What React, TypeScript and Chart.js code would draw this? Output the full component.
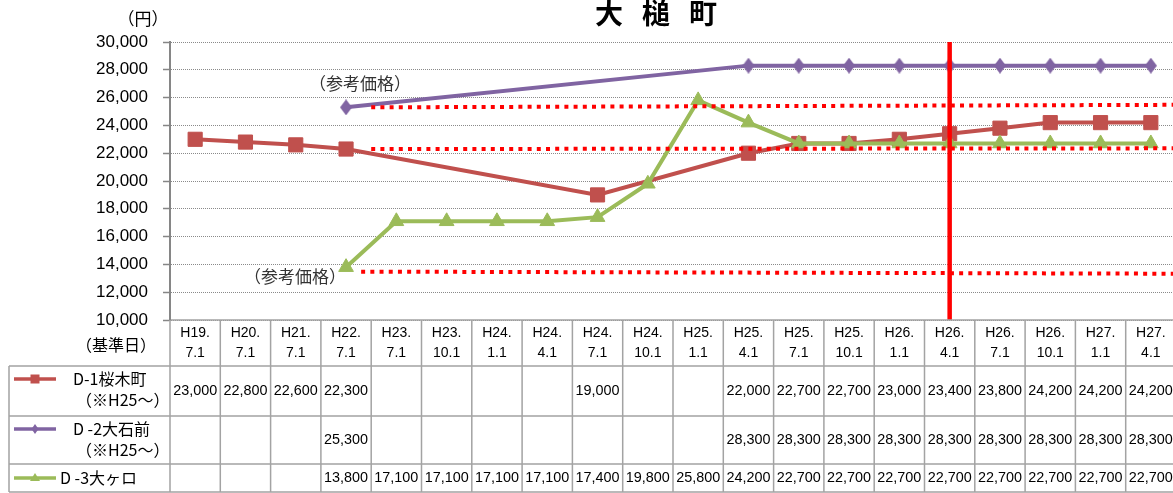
import { useEffect, useRef } from 'react';
import { Chart, registerables } from 'chart.js';

Chart.register(...registerables);

// ---- data ----
const dateLines: string[][] = [
  ['H19.', '7.1'], ['H20.', '7.1'], ['H21.', '7.1'], ['H22.', '7.1'], ['H23.', '7.1'],
  ['H23.', '10.1'], ['H24.', '1.1'], ['H24.', '4.1'], ['H24.', '7.1'], ['H24.', '10.1'],
  ['H25.', '1.1'], ['H25.', '4.1'], ['H25.', '7.1'], ['H25.', '10.1'], ['H26.', '1.1'],
  ['H26.', '4.1'], ['H26.', '7.1'], ['H26.', '10.1'], ['H27.', '1.1'], ['H27.', '4.1'],
];
const d1Sakuragi: (number | null)[] = [23000, 22800, 22600, 22300, null, null, null, null, 19000, null, null, 22000, 22700, 22700, 23000, 23400, 23800, 24200, 24200, 24200];
const d2Oishimae: (number | null)[] = [null, null, null, 25300, null, null, null, null, null, null, null, 28300, 28300, 28300, 28300, 28300, 28300, 28300, 28300, 28300];
const d3Ogaguchi: (number | null)[] = [null, null, null, 13800, 17100, 17100, 17100, 17100, 17400, 19800, 25800, 24200, 22700, 22700, 22700, 22700, 22700, 22700, 22700, 22700];
const seriesNames: string[][] = [['D-1桜木町', '（※H25～）'], ['D -2大石前', '（※H25～）'], ['D -3大ヶロ']];
const seriesColors = ['#C0504D', '#8064A2', '#9BBB59'];
const yMin = 10000;
const yMax = 30000;
const yStep = 2000;
const refFromIdx = [3.5, 3.5, 3.3];
const refStartVal = [25300, 22300, 13480];
const refEndVal = [25480, 22350, 13330];
const markerIdx = 15; // H26.4.1
const titleChars = ['大', '槌', '町'];
const unitLabel = '（円）';
const baseDateLabel = '（基準日）';
const refLabel = '（参考価格）';

const fmt = (v: number) => v.toLocaleString('en-US');
const JP = "'Noto Sans CJK JP', sans-serif";
const LAT = "'Liberation Sans', Arial, sans-serif";

export default function App() {
  const ref = useRef<HTMLCanvasElement | null>(null);
  useEffect(() => {
    if (!ref.current) return;
    const dia = document.createElement('canvas');
    dia.width = 12; dia.height = 16;
    const dc = dia.getContext('2d')!;
    dc.fillStyle = seriesColors[1];
    dc.beginPath(); dc.moveTo(6, 0); dc.lineTo(12, 8); dc.lineTo(6, 16); dc.lineTo(0, 8); dc.closePath(); dc.fill();

    const valAt = (c: any, idx: number) => {
      const x = c.scales.x;
      const i0 = Math.floor(idx);
      const p0 = x.getPixelForValue(i0);
      const p1 = x.getPixelForValue(i0 + 1);
      return p0 + (p1 - p0) * (idx - i0);
    };

    const overlay = {
      id: 'overlay',
      afterDatasetsDraw(c: any) {
        const ctx = c.ctx; const y = c.scales.y; const ca = c.chartArea;
        ctx.save();
        ctx.strokeStyle = '#FF0000'; ctx.lineWidth = 4; ctx.setLineDash([4, 5.2]);
        for (let i = 0; i < refStartVal.length; i++) {
          ctx.beginPath();
          ctx.moveTo(valAt(c, refFromIdx[i]), y.getPixelForValue(refStartVal[i]));
          ctx.lineTo(ca.right, y.getPixelForValue(refEndVal[i]));
          ctx.stroke();
        }
        ctx.setLineDash([]);
        const mx = c.scales.x.getPixelForValue(markerIdx);
        ctx.lineWidth = 4.5;
        ctx.beginPath(); ctx.moveTo(mx, ca.top); ctx.lineTo(mx, ca.bottom); ctx.stroke();
        ctx.restore();
      },
      afterDraw(c: any) {
        const ctx = c.ctx; const x = c.scales.x; const y = c.scales.y; const ca = c.chartArea;
        ctx.save();
        ctx.fillStyle = '#000';
        ctx.font = `bold 28px ${JP}`;
        ctx.textAlign = 'center'; ctx.textBaseline = 'middle';
        titleChars.forEach((ch, i) => ctx.fillText(ch, 609 + i * 47, 13));
        ctx.font = `17px ${JP}`;
        ctx.fillText(unitLabel, 143, 19);
        ctx.fillStyle = '#333';
        ctx.font = `17px ${JP}`;
        ctx.textAlign = 'left';
        ctx.fillText(refLabel, 309, y.getPixelForValue(27000));
        ctx.fillText(refLabel, 244, y.getPixelForValue(13000) - 1.5);

        // table
        const colW = x.getPixelForValue(1) - x.getPixelForValue(0);
        const left = x.getPixelForValue(0) - colW / 2;
        const right = left + colW * dateLines.length;
        const top = ca.bottom;
        const rows = [top, top + 46, top + 96, top + 144, top + 172];
        const tableLeft = 9;
        ctx.strokeStyle = '#a3a3a3'; ctx.lineWidth = 1.5;
        ctx.beginPath();
        ctx.moveTo(left, rows[0]); ctx.lineTo(right, rows[0]);
        for (let r = 1; r < rows.length; r++) { ctx.moveTo(tableLeft, rows[r]); ctx.lineTo(right, rows[r]); }
        for (let k = 0; k <= dateLines.length; k++) { const xx = left + k * colW; ctx.moveTo(xx, rows[0]); ctx.lineTo(xx, rows[4]); }
        ctx.moveTo(tableLeft, rows[1]); ctx.lineTo(tableLeft, rows[4]);
        ctx.stroke();
        ctx.strokeStyle = '#868686'; ctx.lineWidth = 2;
        ctx.beginPath(); ctx.moveTo(left, ca.top); ctx.lineTo(left, ca.bottom); ctx.stroke();

        ctx.fillStyle = '#000'; ctx.textAlign = 'center'; ctx.textBaseline = 'middle';
        ctx.font = `14px ${LAT}`;
        dateLines.forEach((d, i) => {
          const cx = x.getPixelForValue(i);
          ctx.fillText(d[0], cx, top + 13);
          ctx.fillText(d[1], cx, top + 33);
        });
        ctx.font = `16px ${JP}`;
        ctx.fillText(baseDateLabel, 116, top + 25);

        const series = [d1Sakuragi, d2Oishimae, d3Ogaguchi];
        const rowCenters = [(rows[1] + rows[2]) / 2, (rows[2] + rows[3]) / 2, (rows[3] + rows[4]) / 2];
        ctx.font = `14.4px ${LAT}`;
        series.forEach((s, r) => {
          s.forEach((v, i) => { if (v != null) ctx.fillText(fmt(v), x.getPixelForValue(i), rowCenters[r]); });
        });
        const sampleY = [rows[1] + 13, rows[2] + 13, rowCenters[2]];
        seriesNames.forEach((nm, r) => {
          const col = seriesColors[r];
          ctx.strokeStyle = col; ctx.fillStyle = col; ctx.lineWidth = 3.5;
          ctx.beginPath(); ctx.moveTo(14, sampleY[r]); ctx.lineTo(56, sampleY[r]); ctx.stroke();
          const mx = 35, my = sampleY[r];
          ctx.beginPath();
          if (r === 0) ctx.rect(mx - 4.5, my - 4.5, 9, 9);
          else if (r === 1) { ctx.moveTo(mx, my - 5); ctx.lineTo(mx + 3.5, my); ctx.lineTo(mx, my + 5); ctx.lineTo(mx - 3.5, my); ctx.closePath(); }
          else { ctx.moveTo(mx, my - 5); ctx.lineTo(mx + 5, my + 3); ctx.lineTo(mx - 5, my + 3); ctx.closePath(); }
          ctx.fill();
          ctx.fillStyle = '#000'; ctx.font = `16px ${JP}`; ctx.textAlign = 'left';
          if (nm.length === 2) {
            ctx.fillText(nm[0], 73, sampleY[r]);
            ctx.fillText(nm[1], 76, sampleY[r] + 21);
          } else {
            ctx.fillText(nm[0], 60, sampleY[r]);
          }
          ctx.textAlign = 'center';
        });
        ctx.restore();
      },
    };

    const common = { borderWidth: 4, spanGaps: true, tension: 0, pointBorderWidth: 1, clip: false as const };
    const chart = new Chart(ref.current, {
      type: 'line',
      data: {
        labels: dateLines.map((d) => d.join('')),
        datasets: [
          { ...common, label: seriesNames[0].join(''), data: d1Sakuragi, borderColor: seriesColors[0], backgroundColor: seriesColors[0], pointStyle: 'rect', pointRadius: 10, order: 3 },
          { ...common, label: seriesNames[1].join(''), data: d2Oishimae, borderColor: seriesColors[1], backgroundColor: seriesColors[1], pointStyle: dia as any, pointRadius: 8, order: 2 },
          { ...common, label: seriesNames[2].join(''), data: d3Ogaguchi, borderColor: seriesColors[2], backgroundColor: seriesColors[2], pointStyle: 'triangle', pointRadius: 8.5, order: 1 },
        ],
      },
      options: {
        responsive: false,
        animation: false,
        layout: { autoPadding: false, padding: { top: 42, bottom: 173, left: 0, right: 0 } },
        plugins: { legend: { display: false }, tooltip: { enabled: false }, title: { display: false } },
        scales: {
          x: { type: 'category', offset: true, display: false },
          y: {
            min: yMin, max: yMax,
            afterFit: (s: any) => { s.width = 170; },
            ticks: { stepSize: yStep, color: '#000', padding: 15, font: { family: LAT, size: 17 }, callback: (v: any) => fmt(Number(v)) },
            grid: { color: '#8a8a8a', lineWidth: 1, tickLength: 7, tickColor: '#868686', tickBorderDash: [], tickWidth: 1.5 } as any,
            border: { display: true, color: '#868686', width: 2, dash: [1, 1] },
          },
        },
      },
      plugins: [overlay],
    });
    return () => chart.destroy();
  }, []);
  return (
    <div style={{ position: 'fixed', left: 0, top: 0, width: 1176, height: 493, background: '#fff' }}>
      <canvas ref={ref} width={1176} height={493} />
    </div>
  );
}
